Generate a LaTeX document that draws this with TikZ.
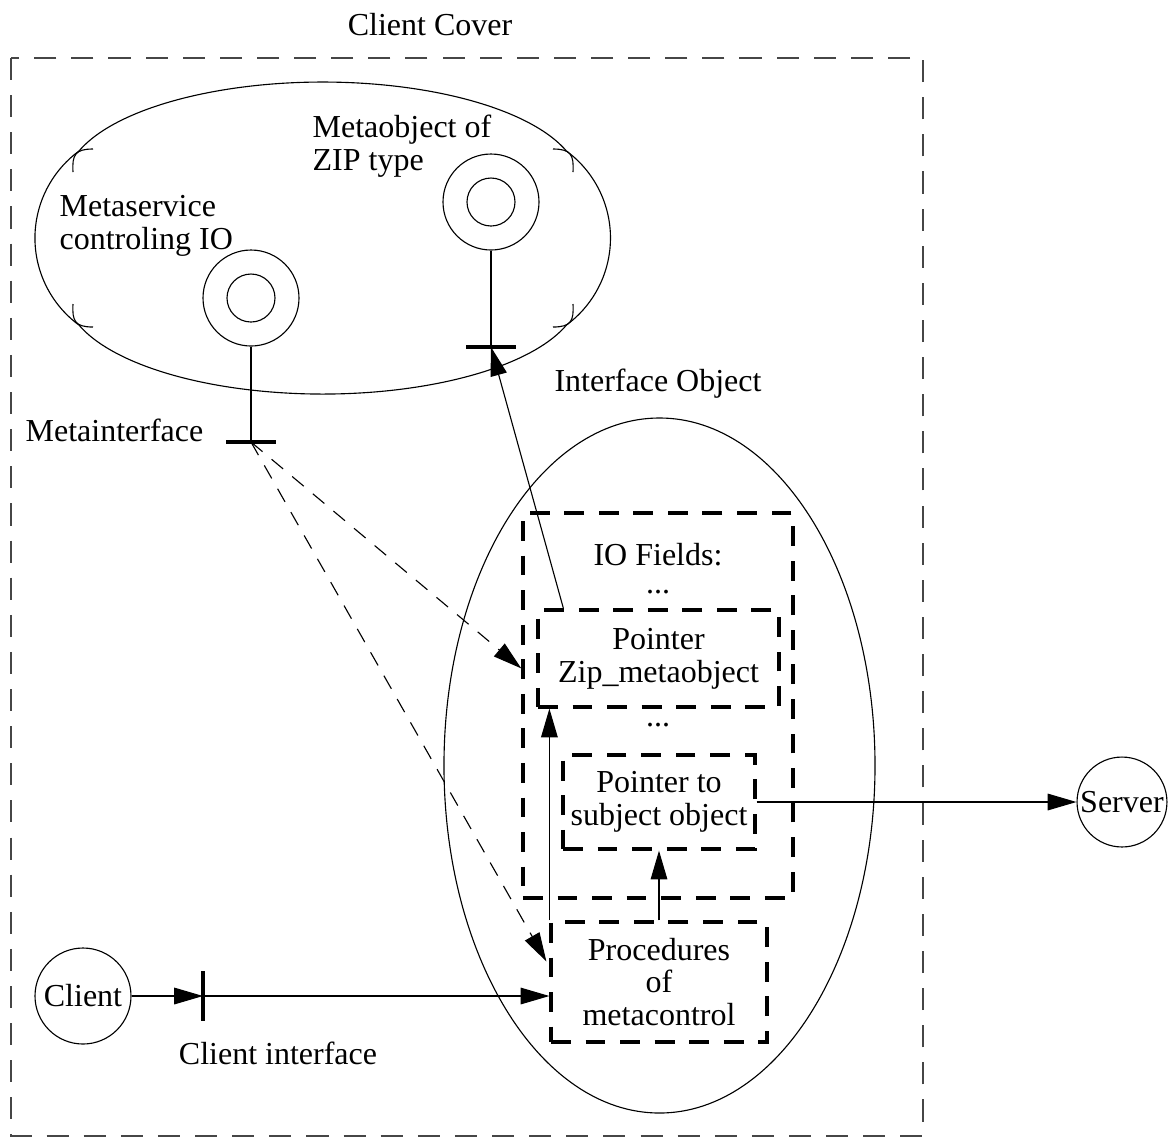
\documentclass[tikz,border=0pt]{standalone}
\usepackage{fontspec}
\setmainfont{Liberation Serif}
\usepackage{tikz}
\usetikzlibrary{arrows.meta}
\usetikzlibrary{shapes.geometric, calc}

\tikzset{
  thinline/.style={line width=0.35pt},
  arr/.style={thinline, -{Triangle[length=9pt,width=5.2pt]}},
  dasharr/.style={arr, dash pattern=on 4.7pt off 3.7pt},
  field/.style={draw, line width=1pt, dash pattern=on 6.2pt off 4.6pt, inner sep=0pt, align=center},
  ring/.style={draw, thinline, circle, inner sep=0pt, minimum size=#1},
  bar/.style={line width=1pt},
  lbl/.style={inner sep=0pt, align=left},
}

\begin{document}
\begin{tikzpicture}[x=0.3125pt, y=-0.3125pt, font=\fontsize{10}{10.3}\selectfont]
                \useasboundingbox (0,0) rectangle (1169,1138);
                % client cover
                \draw[line width=0.5pt, gray!55!black, dash pattern=on 6.9pt off 4.7pt] (11,58) rectangle (923,1136);
                \node (cover) at (430,25) {Client Cover};

                % meta space: four arcs, with their corner marks
                \draw[thinline] (79,151) arc[start angle=198.5, end angle=341.5, x radius=257, y radius=101]
                    arc[start angle=-53.7, end angle=53.7, radius=108]
                    arc[start angle=18.5, end angle=161.5, x radius=257, y radius=101]
                    arc[start angle=126.3, end angle=233.7, radius=108] -- cycle;
                \foreach \sx in {1,-1} {
                    \foreach \sy in {1,-1} {
                        \draw[thinline] ({323-250*\sx},{238-66*\sy}) .. controls ({323-251*\sx},{238-83*\sy}) and ({323-248*\sx},{238-89*\sy}) .. ({323-230*\sx},{238-89*\sy});
                    }
                }
                \foreach \nm/\pos in {msvc/{(251,298)}, mzip/{(491,202)}} {
                    \node[ring=30pt] (\nm) at \pos {};
                    \node[ring=15pt] at (\nm) {};
                }
                \node[lbl, anchor=west] (msvclbl) at (59,226) {Metaservice\\controling IO};
                \node[lbl, anchor=west] (mziplbl) at (312,146) {Metaobject of\\ZIP type};

                % metainterfaces
                \coordinate (minterf) at (251,442);
                \coordinate (mzipif) at (491,347);
                \draw[thinline] (msvc) -- (minterf);
                \draw[thinline] (mzip) -- (mzipif);
                \draw[bar] (minterf) +(-25,0) -- +(25,0);
                \draw[bar] (mzipif) +(-25,0) -- +(25,0);
                \node[lbl, anchor=west] (minterflbl) at (25,430) {Metainterface};

                % interface object
                \node[draw, thinline, ellipse, inner sep=0pt, minimum width=134.7pt, minimum height=217.2pt] (ifobj) at (659.5,765.5) {};
                \node (ifobjlbl) at (658,384) {Interface Object};
                \node[field, minimum width=84.4pt, minimum height=120.3pt] (iobox) at (658,705.5) {};
                \node (iofields) at (658,555) {IO Fields:};
                \node (dotsa) at (658,592) {...};
                \node (dotsb) at (658,725) {...};
                \node[field, minimum width=75.3pt, minimum height=30.3pt] (zipptr) at (658.5,658.5) {Pointer\\Zip\_metaobject};
                \node[field, minimum width=60pt, minimum height=29.4pt] (subj) at (659,802) {Pointer to\\subject object};
                \node[field, minimum width=67.5pt, minimum height=37.5pt] (procs) at (659,982) {Procedures\\of\\metacontrol};

                % client and server
                \node[ring=30pt] (client) at (83,996) {Client};
                \node[ring=28.1pt] (server) at (1122,802) {Server};
                \coordinate (cintf) at (203,996);
                \draw[bar] (cintf) +(0,-25) -- +(0,25);
                \node (cintflbl) at (278,1053) {Client interface};

                % connectors
                \draw[arr] (client) -- (cintf);
                \draw[arr] (cintf) -- (procs.west |- cintf);
                \draw[arr] (procs.north west) -- (procs.north west |- zipptr.south);
                \draw[arr] (procs.north) -- (subj.south);
                \draw[arr] (subj) -- (server);
                \draw[arr] ($(zipptr.north west)+(27,0)$) -- (mzipif);
                \draw[dasharr] (minterf) -- ($(iobox.north west)+(0,157)$);
                \draw[dasharr] (minterf) -- ($(procs.north west)+(-3,41)$);
            \end{tikzpicture}
\end{document}
